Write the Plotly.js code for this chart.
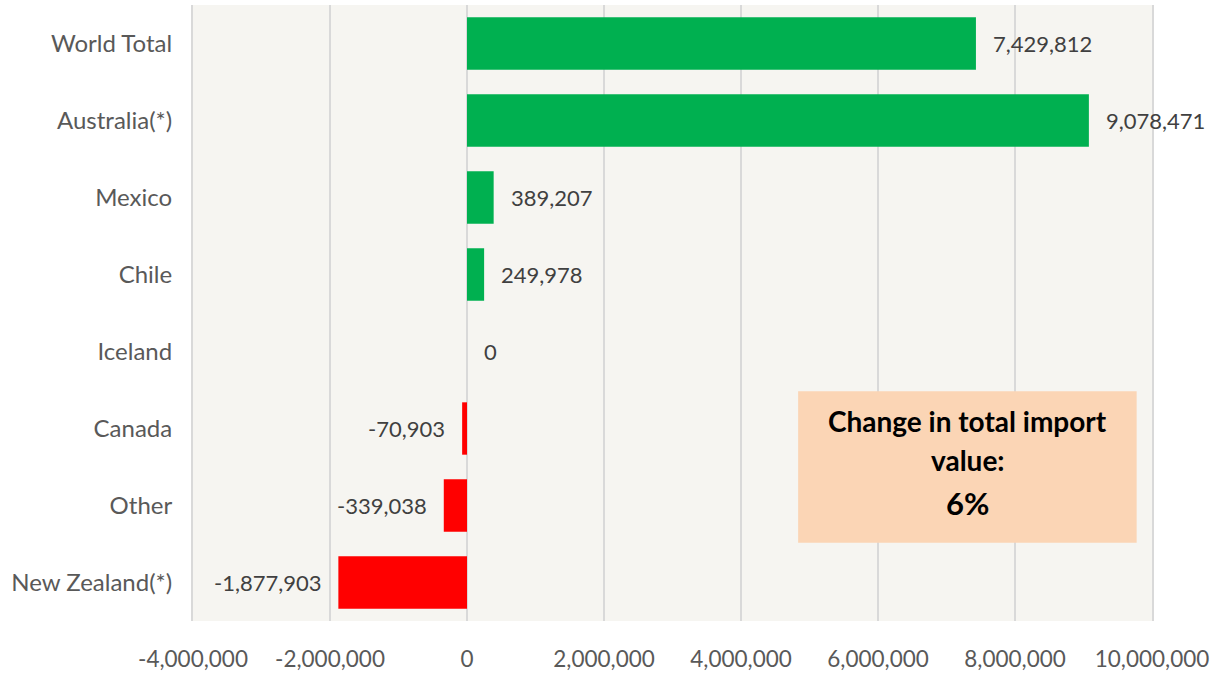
<!DOCTYPE html>
<html>
<head>
<meta charset="utf-8">
<script src="https://cdn.plot.ly/plotly-3.0.1.min.js"></script>
<style>html,body{margin:0;padding:0;background:#fff;}#chart{width:1220px;height:673px;}</style>
</head>
<body>
<div id="chart"></div>
<script>
const categories = ["World Total", "Australia(*)", "Mexico", "Chile", "Iceland", "Canada", "Other", "New Zealand(*)"];
const values = [7429812, 9078471, 389207, 249978, 0, -70903, -339038, -1877903];
const tickVals = [-4000000, -2000000, 0, 2000000, 4000000, 6000000, 8000000, 10000000];
const tickText = ["-4,000,000", "-2,000,000", "0", "2,000,000", "4,000,000", "6,000,000", "8,000,000", "10,000,000"];
const boxLines = ["Change in total import", "value:", "6%"];

const FONT = 'Lato, "Open Sans", sans-serif';
const fmt = v => v.toLocaleString('en-US');
const colors = values.map(v => v >= 0 ? '#00b050' : '#ff0000');

const trace = {
  type: 'bar',
  orientation: 'h',
  x: values,
  y: categories,
  marker: {color: colors},
  hoverinfo: 'none'
};

const labelAnns = values.map((v, i) => ({
  xref: 'x', yref: 'y',
  x: v, y: categories[i],
  text: fmt(v),
  showarrow: false,
  xanchor: v >= 0 ? 'left' : 'right',
  yanchor: 'middle',
  xshift: v >= 0 ? 15 : -15,
  font: {family: FONT, size: 22, color: '#404040'}
}));

const lineY = [0.325, 0.261, 0.192];
const lineSize = [28, 28, 31];
const boxAnns = boxLines.map((t, i) => ({
  xref: 'paper', yref: 'paper',
  x: 0.808, y: lineY[i],
  xanchor: 'center', yanchor: 'middle',
  showarrow: false,
  text: '<b>' + t + '</b>',
  font: {family: FONT, size: lineSize[i], color: '#000000'}
}));

const layout = {
  width: 1220, height: 673,
  margin: {l: 193, r: 68, t: 5, b: 52},
  paper_bgcolor: '#ffffff',
  plot_bgcolor: '#f6f5f1',
  showlegend: false,
  bargap: 0.32,
  font: {family: FONT, color: '#595959'},
  xaxis: {
    range: [-4000000, 10000000],
    tickvals: tickVals,
    ticktext: tickText,
    showgrid: true,
    gridcolor: '#d9d9d9',
    gridwidth: 2,
    zeroline: true,
    zerolinecolor: '#d9d9d9',
    zerolinewidth: 2,
    showline: false,
    ticks: '',
    ticklabelstandoff: 22,
    tickfont: {size: 22.5, color: '#595959'}
  },
  yaxis: {
    type: 'category',
    autorange: 'reversed',
    showgrid: false,
    zeroline: false,
    showline: true,
    mirror: true,
    linecolor: '#d9d9d9',
    linewidth: 2,
    ticks: '',
    ticklabelstandoff: 14,
    tickfont: {size: 24, color: '#595959'}
  },
  shapes: [{
    type: 'rect', xref: 'paper', yref: 'paper',
    x0: 0.631, x1: 0.984, y0: 0.127, y1: 0.373,
    fillcolor: '#fbd5b5', line: {width: 0}, layer: 'above'
  }],
  annotations: labelAnns.concat(boxAnns)
};

Plotly.newPlot('chart', [trace], layout, {displayModeBar: false, staticPlot: true});
</script>
</body>
</html>
